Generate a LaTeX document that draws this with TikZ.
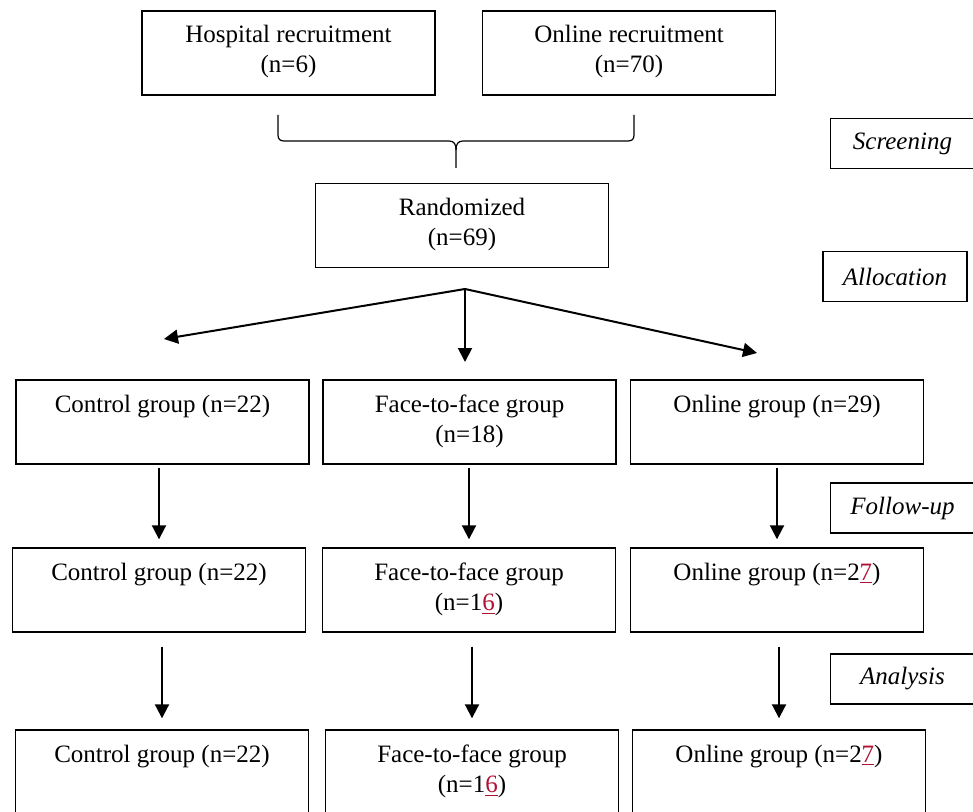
\documentclass[tikz,border=0pt]{standalone}
\usepackage{fontspec}
\setmainfont{Liberation Serif}
\usetikzlibrary{arrows.meta}
\definecolor{editred}{RGB}{176,18,52}
\newcommand{\editnum}[1]{\textcolor{editred}{\underline{#1}}}

\begin{document}
\begin{tikzpicture}[x=0.5pt,y=-0.5pt,
box/.style={draw,line width=0.7pt,inner sep=0pt,minimum width=146.5pt,
  align=center,text height=16pt,text depth=26pt,
  font=\fontsize{12.5}{15}\selectfont},
twoline/.style={box,text height=31pt,text depth=11pt},
stage/.style={draw,line width=0.7pt,inner sep=0pt,minimum width=72pt,
  minimum height=25pt,font=\fontsize{12.5}{15}\selectfont\itshape},
arr/.style={-{Triangle[width=7pt,length=7pt]},line width=1pt},
brace/.style={line width=0.6pt}]
\useasboundingbox (0,0) rectangle (973,812);

%Recruitment
\node[twoline,
] (hosp) at (288.5,53){Hospital recruitment\\(n=6)};

\node[twoline,
] (onlrec) at (629,53){Online recruitment\\(n=70)};

%Brace
\draw[brace] (278,115) -- (278,135) .. controls (278,139) and (280,141) .. (284,141)
  -- (449,141) .. controls (454,141) and (456,144) .. (456,150) -- (456,168);
\draw[brace] (634,115) -- (634,135) .. controls (634,139) and (632,141) .. (628,141)
  -- (463,141) .. controls (458,141) and (456,144) .. (456,150);

%Randomized
\node[twoline,
] (rand) at (462,225.5){Randomized\\(n=69)};

%Stages
\node[stage,
] (screen) at (902.5,143.5){Screening};

\node[stage,
] (alloc) at (895,276.5){Allocation};

\node[stage,
] (follow) at (902.5,508){Follow-up};

\node[stage,
] (analys) at (902.5,679){Analysis};


%%%%%%%%%%%%%%%%%Allocation%%%%%%%%%%%%%%
\coordinate (split) at (465,289);
\coordinate (toctrl) at (164,339);
\coordinate (tof2f) at (465,362);
\coordinate (toonl) at (757,353);

\draw[arr] (split) -- (toctrl);
\draw[arr] (split) -- (tof2f);
\draw[arr] (split) -- (toonl);


%%%%%%%%%%%%%%%%%Row 1%%%%%%%%%%%%%%
%Control
\node[box,
] (ctrla) at (162.5,422){Control group (n=22)};

%Face-to-face
\node[twoline,
] (ftfa) at (469.5,422){Face-to-face group\\(n=18)};

%Online
\node[box,
] (onla) at (777,422){Online group (n=29)};


%%%%%%%%%%%%%%%%%Row 2%%%%%%%%%%%%%%
%Control
\node[box,
] (ctrlb) at (159,590){Control group (n=22)};

%Face-to-face
\node[twoline,
] (ftfb) at (469,590){Face-to-face group\\(n=1\editnum{6})};

%Online
\node[box,
] (onlb) at (777,590){Online group (n=2\editnum{7})};

\draw[arr, shorten <=1.5pt, shorten >=4pt] (ctrlb.north |- ctrla.south) -- (ctrlb.north);
\draw[arr, shorten <=1.5pt, shorten >=4pt] (ftfb.north |- ftfa.south) -- (ftfb.north);
\draw[arr, shorten <=1.5pt, shorten >=4pt] (onlb.north |- onla.south) -- (onlb.north);


%%%%%%%%%%%%%%%%%Row 3%%%%%%%%%%%%%%
%Control
\node[box,
] (ctrlc) at (162,772){Control group (n=22)};

%Face-to-face
\node[twoline,
] (ftfc) at (472,772){Face-to-face group\\(n=1\editnum{6})};

%Online
\node[box,
] (onlc) at (779,772){Online group (n=2\editnum{7})};

\draw[arr, shorten <=7pt, shorten >=5.5pt] (ctrlc.north |- ctrlb.south) -- (ctrlc.north);
\draw[arr, shorten <=7pt, shorten >=5.5pt] (ftfc.north |- ftfb.south) -- (ftfc.north);
\draw[arr, shorten <=7pt, shorten >=5.5pt] (onlc.north |- onlb.south) -- (onlc.north);

\end{tikzpicture}
\end{document}
